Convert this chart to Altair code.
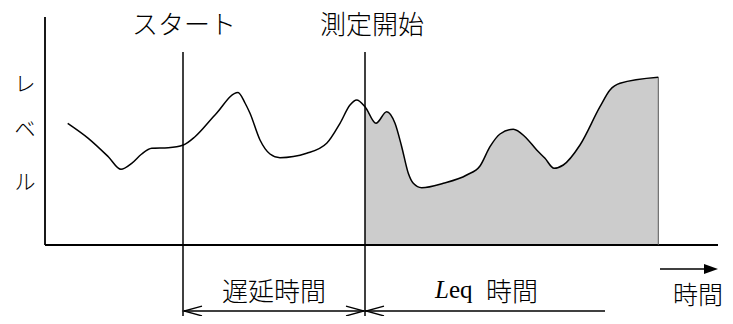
import altair as alt
import pandas as pd

W, H = 717, 308

# Level curve (time, level)
curve_time = [59.7, 80.3, 100.3, 113, 123.7, 133.7, 143.7, 160.3, 175.3, 187, 207, 230, 237,
              242, 252, 262, 272, 298.7, 318.7, 332, 342, 348.7, 357, 368, 378.7, 387, 393.7,
              400.3, 405.3, 413.7, 435.3, 458.7, 472, 482, 492, 505.3, 517, 528.7, 537, 546,
              555.3, 572, 592, 602, 612, 650.3]
curve_level = [192.7, 177.7, 159.3, 146.7, 152.7, 162, 167.7, 168.3, 171, 179.3, 201, 223.5, 213,
               202.7, 176, 162, 158.3, 162.7, 172.7, 192.7, 211, 216, 209.3, 192.7, 204.3, 192.7, 169.3,
               142.7, 132.7, 128.3, 132.7, 141, 150, 169.3, 182, 186.7, 179.3, 166, 157.7, 147.7,
               151, 171, 209.3, 226, 232.7, 238.7]
baseline = 71
start_t = 175
measure_t = 357
leq_end_t = 597
arrow_level = 5
time_arrow_level = 47

curve = pd.DataFrame({"t": curve_time, "level": curve_level})
curve["base"] = baseline
area_df = curve[curve["t"] >= measure_t]

# line segments: x, y, x2, y2, colour, width
seg_x = [37, 37, start_t, measure_t, start_t + 1, measure_t, 652, 650.3]
seg_y = [baseline, baseline, 0, 0, arrow_level, arrow_level, time_arrow_level, baseline]
seg_x2 = [37, 710, start_t, measure_t, measure_t - 1, leq_end_t, 700, 650.3]
seg_y2 = [299, baseline, 264, 264, arrow_level, arrow_level, time_arrow_level, 238.7]
seg_color = ["black", "black", "black", "black", "black", "black", "black", "#555555"]
seg_w = [1.8, 1.8, 1.5, 1.5, 1.3, 1.3, 1.5, 1]
segs = pd.DataFrame({"x": seg_x, "y": seg_y, "x2": seg_x2, "y2": seg_y2,
                     "c": seg_color, "w": seg_w})

# arrow heads
open_left = "M 2 -0.55 L 0 0 L 2 0.55"
open_right = "M -2 -0.55 L 0 0 L -2 0.55"
heads = pd.DataFrame({"x": [start_t + 1, measure_t - 1, measure_t + 1],
                      "y": [arrow_level] * 3,
                      "shape": [open_left, open_right, open_left]})
filled_head = pd.DataFrame({"x": [710], "y": [time_arrow_level],
                            "shape": ["M -2 -0.7 L 0 0 L -2 0.7 Z"]})

# texts
jp_text = ["スタート", "測定開始", "遅延時間", "時間"]
jp_x = [176, 364, 266, 690]
jp_y = [290, 290, 23, 20]
jp_size = [26, 26, 26, 25]
jp = pd.DataFrame({"x": jp_x, "y": jp_y, "text": jp_text, "s": jp_size})

ylab = pd.DataFrame({"x": [17, 17, 17], "y": [231, 186, 133], "text": ["レ", "ベ", "ル"]})

leq_L = pd.DataFrame({"x": [427], "y": [18], "text": ["L"]})
leq_eq = pd.DataFrame({"x": [441], "y": [18], "text": ["eq"]})
leq_jp = pd.DataFrame({"x": [478], "y": [23], "text": ["時間"]})

xs = alt.Scale(domain=[0, W], nice=False, zero=False)
ys = alt.Scale(domain=[0, H], nice=False, zero=False)


def X(f="x"):
    return alt.X(f + ":Q", scale=xs, axis=None)


def Y(f="y"):
    return alt.Y(f + ":Q", scale=ys, axis=None)


area = alt.Chart(area_df).mark_area(interpolate="monotone", color="#cccccc", opacity=1).encode(
    x=X("t"), y=Y("level"), y2="base:Q")

rules = alt.Chart(segs).mark_rule().encode(
    x=X("x"), y=Y("y"), x2="x2:Q", y2="y2:Q",
    color=alt.Color("c:N", scale=None), strokeWidth=alt.StrokeWidth("w:Q", scale=None))

line = alt.Chart(curve).mark_line(interpolate="monotone", color="black", strokeWidth=1.5).encode(
    x=X("t"), y=Y("level"))

head_pts = alt.Chart(heads).mark_point(filled=False, color="black", strokeWidth=1.3, opacity=1,
                                       size=324).encode(
    x=X("x"), y=Y("y"), shape=alt.Shape("shape:N", scale=None))

fhead = alt.Chart(filled_head).mark_point(filled=True, color="black", opacity=1, size=196,
                                          strokeWidth=0).encode(
    x=X("x"), y=Y("y"), shape=alt.Shape("shape:N", scale=None))

jp_font = "Noto Sans CJK JP"
serif_font = "Liberation Serif, Times New Roman, serif"

jp_txt = alt.Chart(jp).mark_text(font=jp_font, align="center", baseline="middle",
                                 color="black", fontWeight=300).encode(
    x=X("x"), y=Y("y"), text="text:N", size=alt.Size("s:Q", scale=None))

ylab_txt = alt.Chart(ylab).mark_text(font=jp_font, fontSize=21, align="center", baseline="middle",
                                     color="black", fontWeight=300).encode(
    x=X("x"), y=Y("y"), text="text:N")

L_txt = alt.Chart(leq_L).mark_text(font=serif_font, fontSize=25, fontStyle="italic",
                                   fontWeight="normal", align="left", baseline="alphabetic",
                                   color="black").encode(
    x=X("x"), y=Y("y"), text="text:N")
eq_txt = alt.Chart(leq_eq).mark_text(font=serif_font, fontSize=25, fontWeight="normal",
                                     align="left", baseline="alphabetic", color="black").encode(
    x=X("x"), y=Y("y"), text="text:N")
leqjp_txt = alt.Chart(leq_jp).mark_text(font=jp_font, fontSize=26, align="left", baseline="middle",
                                        color="black", fontWeight=300).encode(
    x=X("x"), y=Y("y"), text="text:N")

chart = alt.layer(area, rules, line, head_pts, fhead, jp_txt, ylab_txt, L_txt, eq_txt,
                  leqjp_txt).properties(
    width=W, height=H, padding=0, autosize=alt.AutoSizeParams(type="none"),
    background="white"
).configure_view(stroke=None)

chart.save("out.html", embed_options={"renderer": "svg", "actions": False})
